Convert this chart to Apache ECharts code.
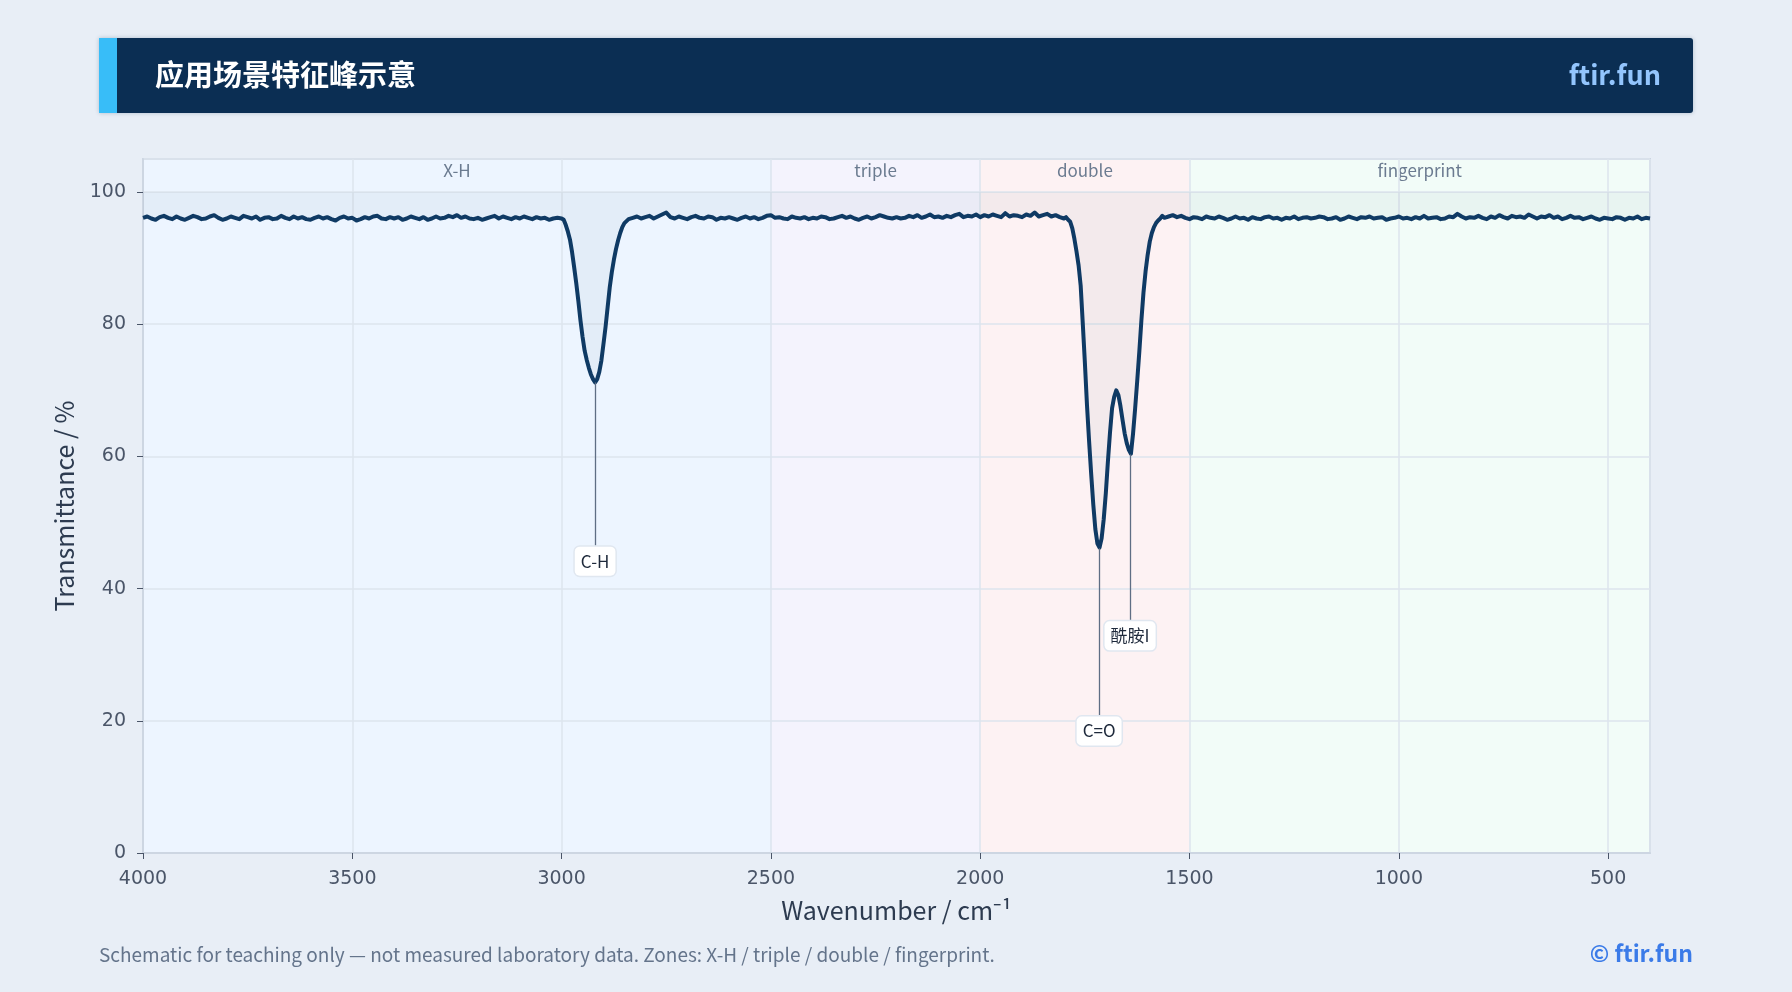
<!DOCTYPE html>
<html>
<head>
<meta charset="utf-8">
<script src="https://cdn.jsdelivr.net/npm/echarts@6/dist/echarts.min.js"></script>
<style>
  html, body { margin: 0; padding: 0; background: #e8eef6; }
  #chart { width: 1792px; height: 992px; }
</style>
</head>
<body>
<div id="chart"></div>
<script>
// wavenumber grid (cm-1), denser around the peaks
var wavenumbers = [
  4000,3990,3980,3970,3960,3950,3940,3930,3920,3910,
  3900,3890,3880,3870,3860,3850,3840,3830,3820,3810,
  3800,3790,3780,3770,3760,3750,3740,3730,3720,3710,
  3700,3690,3680,3670,3660,3650,3640,3630,3620,3610,
  3600,3590,3580,3570,3560,3550,3540,3530,3520,3510,
  3500,3490,3480,3470,3460,3450,3440,3430,3420,3410,
  3400,3390,3380,3370,3360,3350,3340,3330,3320,3310,
  3300,3290,3280,3270,3260,3250,3240,3230,3220,3210,
  3200,3190,3180,3170,3160,3150,3140,3130,3120,3110,
  3100,3090,3080,3070,3060,3050,3040,3030,3020,3010,
  3000,2995,2990,2985,2980,2975,2970,2965,2960,2955,
  2950,2945,2940,2935,2930,2925,2920,2915,2910,2905,
  2900,2895,2890,2885,2880,2875,2870,2865,2860,2855,
  2850,2845,2840,2830,2820,2810,
  2800,2790,2780,2770,2760,2750,2740,2730,2720,2710,
  2700,2690,2680,2670,2660,2650,2640,2630,2620,2610,
  2600,2590,2580,2570,2560,2550,2540,2530,2520,2510,
  2500,2490,2480,2470,2460,2450,2440,2430,2420,2410,
  2400,2390,2380,2370,2360,2350,2340,2330,2320,2310,
  2300,2290,2280,2270,2260,2250,2240,2230,2220,2210,
  2200,2190,2180,2170,2160,2150,2140,2130,2120,2110,
  2100,2090,2080,2070,2060,2050,2040,2030,2020,2010,
  2000,1990,1980,1970,1960,1950,1940,1930,1920,1910,
  1900,1890,1880,1870,1860,1850,1840,1830,1820,1810,
  1800,1795,1790,1785,1780,1775,1770,1765,1760,1755,
  1750,1745,1740,1735,1730,1725,1720,1715,1710,1705,
  1700,1695,1690,1685,1680,1675,1670,1665,1660,1655,
  1650,1645,1640,1635,1630,1625,1620,1615,1610,1605,
  1600,1595,1590,1585,1580,1575,1570,1565,1560,
  1550,1540,1530,1520,1510,
  1500,1490,1480,1470,1460,1450,1440,1430,1420,1410,
  1400,1390,1380,1370,1360,1350,1340,1330,1320,1310,
  1300,1290,1280,1270,1260,1250,1240,1230,1220,1210,
  1200,1190,1180,1170,1160,1150,1140,1130,1120,1110,
  1100,1090,1080,1070,1060,1050,1040,1030,1020,1010,
  1000,990,980,970,960,950,940,930,920,910,
  900,890,880,870,860,850,840,830,820,810,
  800,790,780,770,760,750,740,730,720,710,
  700,690,680,670,660,650,640,630,620,610,
  600,590,580,570,560,550,540,530,520,510,
  500,490,480,470,460,450,440,430,420,410,
  400
];

// transmittance (%) at each wavenumber
var transmittance = [
  96.1,96.3,96.0,95.8,96.2,96.4,96.1,95.9,96.3,96.0,
  95.8,96.1,96.4,96.2,95.9,96.0,96.3,96.5,96.1,95.8,
  96.0,96.3,96.1,95.9,96.4,96.2,96.0,96.3,95.8,96.1,
  96.2,95.9,96.0,96.4,96.1,95.9,96.3,96.0,96.2,95.9,
  95.8,96.1,96.3,96.0,96.2,95.9,95.7,96.1,96.3,96.0,
  96.1,95.7,95.9,96.2,96.0,96.3,96.4,96.0,95.9,96.2,
  96.0,96.2,95.8,96.0,96.3,96.1,95.9,96.2,95.8,96.0,
  96.3,96.0,96.1,96.4,96.2,96.5,96.1,96.3,96.0,95.9,
  96.1,95.8,96.0,96.2,96.4,96.0,96.3,96.1,95.9,96.2,
  96.0,96.3,96.1,95.9,96.2,96.0,96.1,95.8,96.0,96.1,
  96.0,95.8,95.0,94.0,92.8,90.9,88.6,86.2,83.5,80.6,
  78.1,76.0,74.6,73.4,72.4,71.7,71.2,71.7,72.8,74.5,
  77.0,79.6,82.6,85.6,87.9,89.8,91.4,92.7,93.8,94.7,
  95.3,95.6,95.9,96.1,96.3,96.0,
  96.2,96.4,96.0,96.3,96.6,96.9,96.2,96.0,96.3,96.1,
  95.9,96.2,96.4,96.1,96.0,96.3,96.2,95.8,96.1,96.0,
  96.2,96.0,95.8,96.1,96.3,96.0,96.2,95.9,96.1,96.4,
  96.5,96.1,96.2,96.0,95.9,96.3,96.1,96.0,96.2,95.9,
  96.1,96.0,96.3,96.2,95.9,96.0,96.2,96.4,96.1,96.3,
  96.0,95.8,96.1,96.3,96.0,96.2,96.5,96.3,96.1,96.0,
  96.2,96.0,96.1,96.4,96.2,96.5,96.1,96.3,96.6,96.2,
  96.3,96.1,96.4,96.2,96.5,96.7,96.2,96.4,96.3,96.6,
  96.2,96.5,96.3,96.6,96.4,96.2,96.8,96.3,96.5,96.4,
  96.2,96.6,96.4,96.9,96.3,96.5,96.7,96.3,96.5,96.2,
  96.0,96.2,95.8,95.5,94.5,92.9,91.0,88.9,85.8,80.1,
  74.2,67.8,62.4,57.4,52.8,49.0,46.8,46.2,47.6,50.5,
  54.4,59.2,63.6,67.3,69.0,70.0,69.3,67.6,65.5,63.5,
  62.0,61.0,60.4,63.4,67.2,71.4,75.8,80.6,84.8,88.0,
  90.5,92.5,93.8,94.7,95.3,95.7,96.0,96.4,96.1,
  96.3,96.5,96.2,96.4,96.1,
  95.9,96.2,96.1,95.9,96.3,96.1,96.0,96.3,96.1,95.8,
  96.0,96.3,96.0,96.1,95.8,96.2,96.0,95.9,96.2,96.3,
  96.0,96.1,95.8,96.1,96.0,96.3,95.9,96.1,96.2,96.0,
  96.1,96.3,96.2,95.9,96.0,96.2,95.8,96.0,96.3,96.1,
  95.9,96.2,96.1,96.3,96.0,96.1,96.2,95.8,96.0,96.1,
  96.3,96.0,96.1,95.9,96.2,96.0,96.4,96.0,96.1,96.2,
  95.9,96.0,96.3,96.2,96.7,96.3,96.0,96.2,96.1,96.4,
  96.1,95.9,96.3,96.1,96.5,96.2,96.0,96.4,96.2,96.3,
  96.1,96.6,96.3,96.0,96.3,96.2,96.5,96.1,96.3,95.9,
  96.1,96.4,96.1,96.2,95.9,96.1,96.3,96.0,95.8,96.1,
  96.0,95.9,96.2,96.1,95.8,96.1,96.0,96.3,95.9,96.1,
  96.0
];

// zones
var zoneNames = ['X-H', 'triple', 'double', 'fingerprint'];
var zoneFrom = [4000, 2500, 2000, 1500];
var zoneTo = [2500, 2000, 1500, 400];
var zoneColors = ['#edf5ff', '#f4f3fd', '#fdf2f3', '#f2fcf8'];

// peak annotations
var peakNames = ['C-H', 'C=O', '酰胺I'];
var peakWn = [2920, 1716, 1642];
var peakMin = [71.2, 46.1, 60.3];
var peakLabelAt = [46.5, 20.8, 35.2];

var xTicks = [4000, 3500, 3000, 2500, 2000, 1500, 1000, 500];

var CJK = '"Noto Sans CJK SC", "Noto Sans", sans-serif';

var lineData = [];
for (var i = 0; i < wavenumbers.length; i++) {
  lineData.push([wavenumbers[i], transmittance[i]]);
}

var zoneAreas = [];
for (var i = 0; i < zoneNames.length; i++) {
  zoneAreas.push([
    { name: zoneNames[i], xAxis: zoneFrom[i], itemStyle: { color: zoneColors[i] } },
    { xAxis: zoneTo[i] }
  ]);
}

var peakLines = [];
for (var i = 0; i < peakNames.length; i++) {
  peakLines.push([
    { name: peakNames[i], coord: [peakWn[i], peakMin[i]] },
    { coord: [peakWn[i], peakLabelAt[i]] }
  ]);
}

var myChart = echarts.init(document.getElementById('chart'));

var option = {
  backgroundColor: '#e8eef6',
  animation: false,
  textStyle: { fontFamily: CJK },
  grid: {
    left: 143,
    right: 142,
    top: 159,
    bottom: 139,
    show: true,
    backgroundColor: 'transparent',
    borderColor: '#cdd6e2',
    borderWidth: 2
  },
  xAxis: {
    type: 'value',
    inverse: true,
    min: 400,
    max: 4000,
    splitNumber: 8,
    minInterval: 500,
    maxInterval: 500,
    name: 'Wavenumber / cm⁻¹',
    nameLocation: 'middle',
    nameGap: 45,
    nameTextStyle: { fontFamily: CJK, fontSize: 25, color: '#2d3b50' },
    axisLine: { show: true, lineStyle: { color: '#cdd6e2', width: 2 } },
    axisTick: { show: true, length: 6, lineStyle: { color: '#4a5568' } },
    axisLabel: {
      showMinLabel: false,
      fontFamily: 'DejaVu Sans',
      fontSize: 19,
      color: '#4a5568',
      margin: 17,
      formatter: function (v) { return xTicks.indexOf(v) >= 0 ? String(v) : ''; }
    },
    splitLine: { show: true, lineStyle: { color: '#dde5ee', width: 1.5 } }
  },
  yAxis: {
    type: 'value',
    min: 0,
    max: 105,
    interval: 20,
    name: 'Transmittance / %',
    nameLocation: 'middle',
    nameGap: 66,
    nameTextStyle: { fontFamily: CJK, fontSize: 25, color: '#2d3b50' },
    axisLine: { show: true, lineStyle: { color: '#cdd6e2', width: 2 } },
    axisTick: { show: true, length: 6, lineStyle: { color: '#4a5568' } },
    axisLabel: {
      showMaxLabel: false,
      fontFamily: 'DejaVu Sans',
      fontSize: 19,
      color: '#4a5568',
      margin: 17
    },
    splitLine: { show: true, lineStyle: { color: '#dde5ee', width: 1.5 } }
  },
  series: [
    {
      // zone backgrounds
      type: 'line',
      data: [],
      silent: true,
      z: -1,
      markArea: {
        silent: true,
        z: -1,
        label: {
          show: true,
          position: 'insideTop',
          distance: 3,
          fontFamily: CJK,
          fontSize: 17,
          color: '#6b7b90'
        },
        data: zoneAreas
      }
    },
    {
      name: 'spectrum',
      type: 'line',
      data: lineData,
      showSymbol: false,
      symbol: 'none',
      smooth: false,
      lineStyle: { color: '#0f3a64', width: 4, join: 'round' },
      areaStyle: { origin: 100, color: 'rgba(15,58,100,0.06)' },
      markLine: {
        silent: true,
        symbol: 'none',
        lineStyle: { color: '#5f6e84', width: 1.3, type: 'solid' },
        label: {
          show: true,
          position: 'end',
          distance: 1,
          formatter: '{b}',
          fontFamily: CJK,
          fontSize: 17,
          lineHeight: 19,
          color: '#1e293b',
          backgroundColor: '#ffffff',
          borderColor: '#e0e7f0',
          borderWidth: 1.5,
          borderRadius: 5,
          padding: [5, 6, 5, 6]
        },
        data: peakLines
      }
    }
  ],
  graphic: [
    {
      type: 'rect',
      shape: { x: 99, y: 38, width: 1594, height: 75, r: [0, 3, 3, 0] },
      style: { fill: '#0b2e53', shadowBlur: 4, shadowColor: 'rgba(11,46,83,0.25)' }
    },
    {
      type: 'rect',
      shape: { x: 99, y: 38, width: 18, height: 75 },
      style: { fill: '#38bdf8' }
    },
    {
      type: 'text',
      x: 155,
      y: 75,
      style: {
        text: '应用场景特征峰示意',
        fill: '#ffffff',
        font: 'bold 29px "Noto Sans CJK SC"',
        textAlign: 'left',
        textVerticalAlign: 'middle'
      }
    },
    {
      type: 'text',
      x: 1661,
      y: 75,
      style: {
        text: 'ftir.fun',
        fill: '#93c5fd',
        font: 'bold 27px "Noto Sans CJK SC"',
        textAlign: 'right',
        textVerticalAlign: 'middle'
      }
    },
    {
      type: 'text',
      x: 99,
      y: 955,
      style: {
        text: 'Schematic for teaching only — not measured laboratory data. Zones: X-H / triple / double / fingerprint.',
        fill: '#64748b',
        font: '19px "Noto Sans CJK SC"',
        textAlign: 'left',
        textVerticalAlign: 'middle'
      }
    },
    {
      type: 'text',
      x: 1693,
      y: 953,
      style: {
        text: '© ftir.fun',
        fill: '#3b7be8',
        font: 'bold 23px "Noto Sans CJK SC"',
        textAlign: 'right',
        textVerticalAlign: 'middle'
      }
    }
  ]
};

myChart.setOption(option);
</script>
</body>
</html>
